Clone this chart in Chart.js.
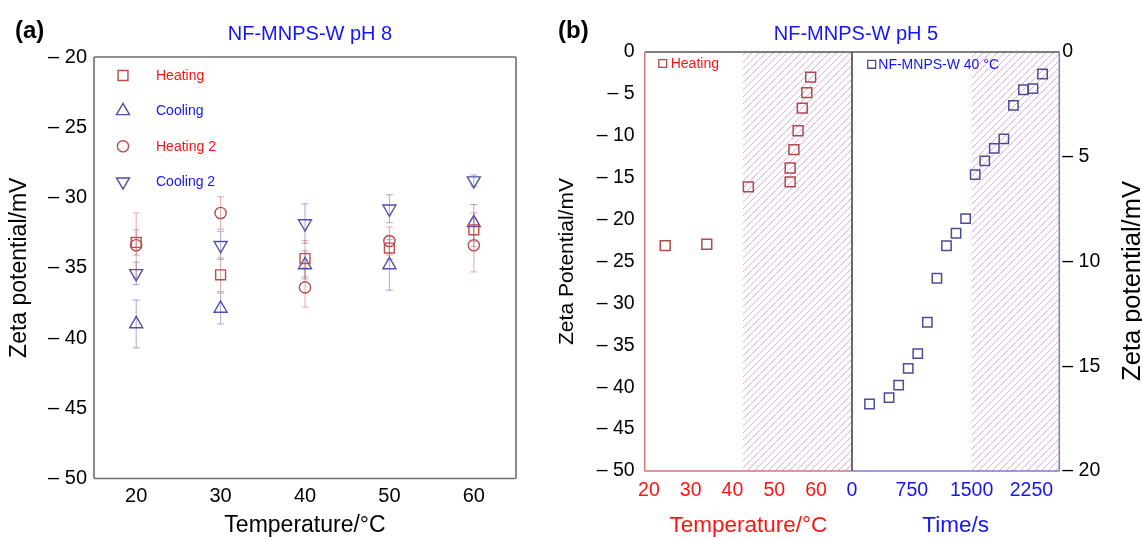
<!DOCTYPE html>
<html><head><meta charset="utf-8">
<script src="https://cdn.jsdelivr.net/npm/chart.js@4.4.0/dist/chart.umd.min.js"></script>
<style>
html,body{margin:0;padding:0;background:#fff;}
#wrap{position:relative;width:1142px;height:539px;overflow:hidden;background:#fff;}
canvas{position:absolute;left:0;top:0;}
</style></head><body>
<div id="wrap">
<canvas id="ca" width="1142" height="539"></canvas>
<canvas id="cbl" width="1142" height="539"></canvas>
<canvas id="cbr" width="1142" height="539"></canvas>
</div>
<script>
// ---------- Panel (a): NF-MNPS-W pH 8 ----------
const tempA = [20, 30, 40, 50, 60];
const heating = [-33.2, -35.5, -34.35, -33.6, -32.3];
const heatingErr = [0.9, 1.2, 1.3, 0.8, 1.2];
const cooling = [-39.0, -37.9, -34.8, -34.8, -31.8];
const coolingErr = [1.7, 1.1, 1.0, 1.8, 1.3];
const heating2 = [-33.4, -31.1, -36.4, -33.1, -33.4];
const heating2Err = [2.3, 1.15, 1.4, 1.0, 1.9];
const cooling2 = [-35.4, -33.4, -31.85, -30.8, -28.8];
const cooling2Err = [0.8, 1.0, 1.4, 1.0, 0.4];
const ticksAx = [20, 30, 40, 50, 60];
const ticksAy = [-50, -45, -40, -35, -30, -25, -20];

// ---------- Panel (b): NF-MNPS-W pH 5 ----------
const tempB = [23.9, 33.85, 43.8, 53.8, 53.8, 54.7, 55.7, 56.7, 57.8, 58.7];
const zetaHeatB = [-23.1, -22.95, -16.1, -15.5, -13.85, -11.65, -9.4, -6.7, -4.85, -3.0];
const timeB = [220, 465, 585, 705, 825, 945, 1065, 1185, 1305, 1425, 1545, 1665, 1785, 1905, 2025, 2150, 2270, 2390];
const zeta40 = [-16.8, -16.5, -15.9, -15.1, -14.4, -12.9, -10.8, -9.25, -8.65, -7.95, -5.85, -5.2, -4.6, -4.15, -2.55, -1.8, -1.75, -1.05];
const ticksBtemp = [20, 30, 40, 50, 60];
const ticksBtime = [0, 750, 1500, 2250];
const ticksBleft = [-50, -45, -40, -35, -30, -25, -20, -15, -10, -5, 0];
const ticksBright = [-20, -15, -10, -5, 0];
const hatchTempStart = 42.4;
const hatchTimeStart = 1500;

// texts
const titleA = 'NF-MNPS-W pH 8';
const titleB = 'NF-MNPS-W pH 5';
const rightYTitle = 'Zeta potential/mV';

Chart.defaults.font.family = "'Liberation Sans', Arial, Helvetica, sans-serif";
Chart.defaults.color = '#000';

const RED_M = '#b94c4c', BLUE_M = '#5050a8';
const RED_E = 'rgba(205,110,110,0.6)', BLUE_E = 'rgba(110,110,200,0.6)';
const RED_T = '#ff1414', BLUE_T = '#1414ff';
const HATCH = '#dcaadc';

function dashLabel(v){ return v === 0 ? '0' : '\u2013 ' + Math.abs(v); }
function plainLabel(v){ return String(v); }
function setTicks(arr){ return (s) => { s.ticks = arr.map(v => ({value: v})); }; }
function pts(xs, ys){ return xs.map((x, i) => ({x: x, y: ys[i]})); }
function errSeg(xs, ys, es){
  const out = [];
  xs.forEach((x, i) => { out.push({x: x, y: ys[i] - es[i]}, {x: x, y: ys[i] + es[i]}, {x: x, y: null}); });
  return out;
}
function errDs(xs, ys, es, col){
  return {data: errSeg(xs, ys, es), showLine: true, spanGaps: false, borderColor: col, borderWidth: 1,
    pointStyle: 'line', pointRadius: 3.5, pointBorderColor: col, pointBorderWidth: 1, pointBackgroundColor: col, order: 5};
}
function markDs(label, xs, ys, style, rot, r, col, txtCol){
  return {label: label, data: pts(xs, ys), pointStyle: style, rotation: rot, pointRotation: rot, pointRadius: r,
    pointBorderColor: col, pointBackgroundColor: 'rgba(0,0,0,0)', pointBorderWidth: 1.4, order: 0,
    legendColor: txtCol};
}
function hatchPattern(canvasId){
  const c = document.createElement('canvas'); const s = 7; c.width = s; c.height = s;
  const g = c.getContext('2d'); g.strokeStyle = HATCH; g.lineWidth = 1;
  g.beginPath(); g.moveTo(0, s); g.lineTo(s, 0); g.moveTo(-1, 1); g.lineTo(1, -1); g.moveTo(s - 1, s + 1); g.lineTo(s + 1, s - 1); g.stroke();
  return document.getElementById(canvasId).getContext('2d').createPattern(c, 'repeat');
}
function sideFrame(sides, w){
  return {id: 'sideFrame', afterDatasetsDraw(chart){
    const {ctx, chartArea: a} = chart;
    const seg = {top: [a.left, a.top, a.right, a.top], bottom: [a.left, a.bottom, a.right, a.bottom],
      left: [a.left, a.top, a.left, a.bottom], right: [a.right, a.top, a.right, a.bottom]};
    ctx.save(); ctx.lineWidth = w;
    for (const k in sides){ const s = seg[k]; ctx.strokeStyle = sides[k]; ctx.beginPath(); ctx.moveTo(s[0], s[1]); ctx.lineTo(s[2], s[3]); ctx.stroke(); }
    ctx.restore();
  }};
}
function legendPlugin(cfg){
  return {id: 'inLegend', afterDraw(chart){
    const {ctx, chartArea: a} = chart;
    const items = chart.data.datasets.filter(d => d.legendColor);
    ctx.save();
    items.forEach((d, i) => {
      const y = a.top + cfg.y0 + i * cfg.dy;
      ctx.strokeStyle = d.pointBorderColor; ctx.fillStyle = 'rgba(0,0,0,0)'; ctx.lineWidth = cfg.lw || d.pointBorderWidth;
      Chart.helpers.drawPoint(ctx, {pointStyle: d.pointStyle, rotation: d.rotation || 0, radius: cfg.r || d.pointRadius, borderWidth: cfg.lw || d.pointBorderWidth}, a.left + cfg.mx, y);
      ctx.fillStyle = d.legendColor; ctx.font = cfg.font + "px 'Liberation Sans', Arial, sans-serif";
      ctx.textBaseline = 'middle'; ctx.textAlign = 'left';
      ctx.fillText(d.label, a.left + cfg.tx, y + 0.5);
    });
    ctx.restore();
  }};
}
function headPlugin(tag, tagX, title, titleX){
  return {id: 'head', afterDraw(chart){
    const ctx = chart.ctx; ctx.save(); ctx.textBaseline = 'alphabetic';
    ctx.fillStyle = '#000'; ctx.font = "bold 24px 'Liberation Sans', Arial, sans-serif"; ctx.textAlign = 'left';
    ctx.fillText(tag, tagX, 38);
    ctx.fillStyle = BLUE_T; ctx.font = "20px 'Liberation Sans', Arial, sans-serif"; ctx.textAlign = 'center';
    ctx.fillText(title, titleX, 39.5);
    ctx.restore();
  }};
}
const noGrid = {display: false, drawTicks: false, tickLength: 0};
const common = {responsive: false, animation: false, events: [],
  plugins: {legend: {display: false}, tooltip: {enabled: false}, title: {display: false}}};

// ---------- Chart (a) ----------
new Chart(document.getElementById('ca'), {
  type: 'scatter',
  data: {datasets: [
    markDs('Heating', tempA, heating, 'rect', 0, 7, RED_M, RED_T),
    markDs('Cooling', tempA, cooling, 'triangle', 0, 7.5, BLUE_M, BLUE_T),
    markDs('Heating 2', tempA, heating2, 'circle', 0, 5.6, RED_M, RED_T),
    markDs('Cooling 2', tempA, cooling2, 'triangle', 180, 7.5, BLUE_M, BLUE_T),
    errDs(tempA, heating, heatingErr, RED_E),
    errDs(tempA, cooling, coolingErr, BLUE_E),
    errDs(tempA, heating2, heating2Err, RED_E),
    errDs(tempA, cooling2, cooling2Err, BLUE_E)
  ]},
  options: Object.assign({}, common, {
    layout: {padding: {left: 6, top: 57, right: 626, bottom: 0}},
    scales: {
      x: {type: 'linear', min: 15, max: 65, afterBuildTicks: setTicks(ticksAx),
        grid: noGrid, border: {display: false},
        ticks: {font: {size: 20}, color: '#000', padding: 6, callback: plainLabel},
        title: {display: true, text: 'Temperature/\u00B0C', font: {size: 23}, color: '#000', padding: 0},
        afterFit: (s) => { s.height = 60.5; }},
      y: {type: 'linear', min: -50, max: -20, afterBuildTicks: setTicks(ticksAy),
        grid: noGrid, border: {display: false},
        ticks: {font: {size: 20}, color: '#000', padding: 7, callback: dashLabel},
        title: {display: true, text: 'Zeta potential/mV', font: {size: 23}, color: '#000', padding: 0},
        afterFit: (s) => { s.width = 88; }}
    }
  }),
  plugins: [sideFrame({top: '#6e6e6e', bottom: '#6e6e6e', left: '#6e6e6e', right: '#6e6e6e'}, 1.6),
    legendPlugin({y0: 18.5, dy: 35.4, mx: 29, tx: 62, font: 14}),
    headPlugin('(a)', 15, titleA, 310)]
});

// ---------- Chart (b) left: temperature ----------
new Chart(document.getElementById('cbl'), {
  type: 'scatter',
  data: {datasets: [
    Object.assign(markDs('Heating', tempB, zetaHeatB, 'rect', 0, 7, '#b34848', RED_T), {pointBorderWidth: 1.5}),
    {data: [{x: hatchTempStart, y: 0}, {x: 68.6, y: 0}], showLine: true, borderColor: 'rgba(0,0,0,0)', borderWidth: 0,
      pointRadius: 0, fill: 'start', backgroundColor: hatchPattern('cbl'), order: 20}
  ]},
  options: Object.assign({}, common, {
    layout: {padding: {left: 555, top: 52, right: 290, bottom: 0}},
    scales: {
      x: {type: 'linear', min: 19, max: 68.6, afterBuildTicks: setTicks(ticksBtemp),
        grid: noGrid, border: {display: false},
        ticks: {font: {size: 19.5}, color: '#ff1414', padding: 8, callback: plainLabel},
        title: {display: true, text: 'Temperature/\u00B0C', font: {size: 22.5}, color: '#ff1414', padding: 0},
        afterFit: (s) => { s.height = 68; }},
      y: {type: 'linear', min: -50, max: 0, afterBuildTicks: setTicks(ticksBleft),
        grid: noGrid, border: {display: false},
        ticks: {font: {size: 19.5}, color: '#000', padding: 10, callback: dashLabel},
        title: {display: true, text: 'Zeta Potential/mV', font: {size: 21}, color: '#000', padding: 0},
        afterFit: (s) => { s.width = 89.7; }}
    }
  }),
  plugins: [sideFrame({top: '#555', left: '#d07474', bottom: '#d07474', right: '#3a3a3a'}, 1.5),
    legendPlugin({y0: 11.5, dy: 0, mx: 18, tx: 26, font: 14, r: 5.6, lw: 1.3}),
    headPlugin('(b)', 558, titleB, 856)]
});

// ---------- Chart (b) right: time ----------
new Chart(document.getElementById('cbr'), {
  type: 'scatter',
  data: {datasets: [
    Object.assign(markDs('NF-MNPS-W 40 \u00B0C', timeB, zeta40, 'rect', 0, 6.6, '#4b4b98', BLUE_T), {pointBorderWidth: 1.5}),
    {data: [{x: hatchTimeStart, y: 0}, {x: 2600, y: 0}], showLine: true, borderColor: 'rgba(0,0,0,0)', borderWidth: 0,
      pointRadius: 0, fill: 'start', backgroundColor: hatchPattern('cbr'), order: 20}
  ]},
  options: Object.assign({}, common, {
    layout: {padding: {left: 852, top: 52, right: 0, bottom: 0}},
    scales: {
      x: {type: 'linear', min: 0, max: 2600, afterBuildTicks: setTicks(ticksBtime),
        grid: noGrid, border: {display: false},
        ticks: {font: {size: 19.5}, color: '#1414ff', padding: 8, callback: plainLabel},
        title: {display: true, text: 'Time/s', font: {size: 22.5}, color: '#1414ff', padding: 0},
        afterFit: (s) => { s.height = 68; }},
      y: {type: 'linear', position: 'right', min: -20, max: 0, afterBuildTicks: setTicks(ticksBright),
        grid: noGrid, border: {display: false},
        ticks: {font: {size: 19.5}, color: '#000', padding: 3, callback: dashLabel},
        afterFit: (s) => { s.width = 82.7; }}
    }
  }),
  plugins: [sideFrame({top: '#555', bottom: '#7a7ad0', right: '#7a7ad0'}, 1.5),
    legendPlugin({y0: 12.3, dy: 0, mx: 19.7, tx: 26.3, font: 14, r: 5.6, lw: 1.3}),
    {id: 'rightTitle', afterDraw(chart){
      const ctx = chart.ctx; ctx.save(); ctx.translate(1140, 281); ctx.rotate(-Math.PI / 2);
      ctx.fillStyle = '#000'; ctx.font = "25.5px 'Liberation Sans', Arial, sans-serif";
      ctx.textAlign = 'center'; ctx.textBaseline = 'alphabetic'; ctx.fillText(rightYTitle, 0, 0); ctx.restore();
    }}]
});
</script>
</body></html>
